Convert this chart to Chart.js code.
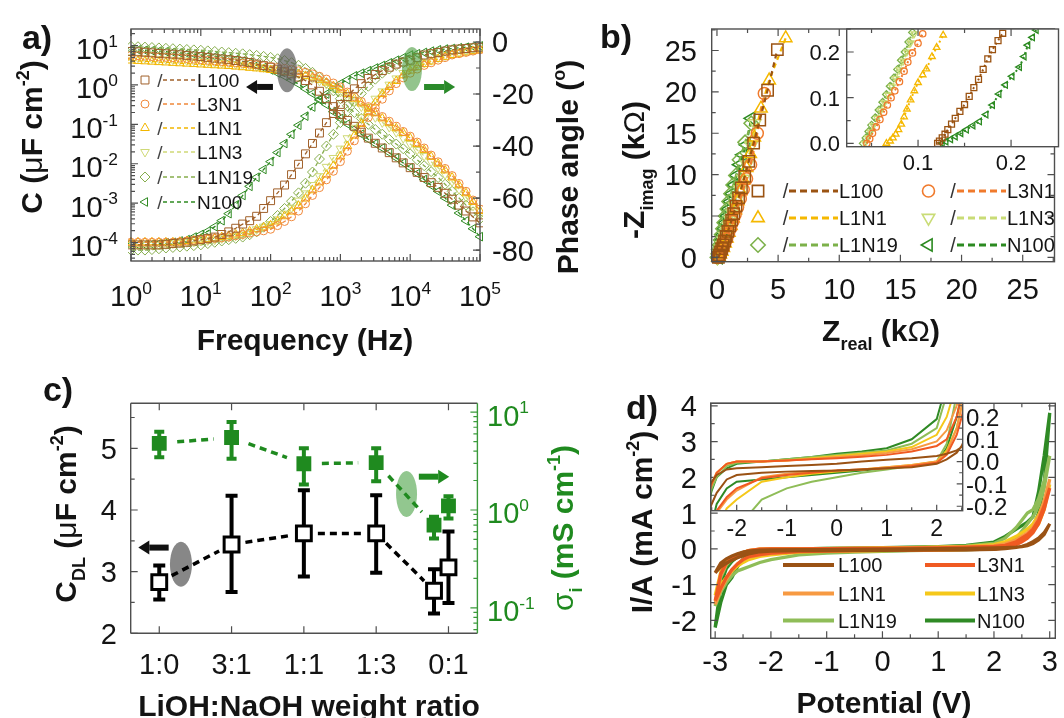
<!DOCTYPE html>
<html>
<head>
<meta charset="utf-8">
<title>Impedance, capacitance and CV of LiOH:NaOH electrolytes</title>
<script src="https://cdn.jsdelivr.net/npm/chart.js"></script>
<style>
  html, body { margin:0; padding:0; background:#ffffff; }
  body { width:1064px; height:718px; position:relative; overflow:hidden; }
  canvas { position:absolute; }
</style>
</head>
<body>
<canvas id="chartA" width="590" height="360" style="left:0px;top:0px;width:590px;height:360px"></canvas>
<canvas id="chartB" width="474" height="360" style="left:590px;top:0px;width:474px;height:360px"></canvas>
<canvas id="chartBin" width="274" height="160" style="left:790px;top:20px;width:274px;height:160px"></canvas>
<canvas id="chartC" width="590" height="358" style="left:0px;top:360px;width:590px;height:358px"></canvas>
<canvas id="chartD" width="474" height="358" style="left:590px;top:360px;width:474px;height:358px"></canvas>
<canvas id="chartDin" width="340" height="150" style="left:700px;top:395px;width:340px;height:150px"></canvas>
<script>
// ======================= DATA =======================
const seriesNames = ['L100', 'L3N1', 'L1N1', 'L1N3', 'L1N19', 'N100'];

// (a) capacitance (uF cm^-2) and phase angle (deg) vs frequency (Hz)
const freqHz = [1, 1.259, 1.585, 1.995, 2.512, 3.162, 3.981, 5.012, 6.310, 7.943,
  10, 12.59, 15.85, 19.95, 25.12, 31.62, 39.81, 50.12, 63.10, 79.43,
  100, 125.9, 158.5, 199.5, 251.2, 316.2, 398.1, 501.2, 631.0, 794.3,
  1000, 1259, 1585, 1995, 2512, 3162, 3981, 5012, 6310, 7943,
  10000, 12590, 15850, 19950, 25120, 31620, 39810, 50120, 63100, 79430, 100000];
const capL100 = [7.08, 6.92, 6.76, 6.53, 6.31, 6.17, 6.03, 5.82, 5.62, 5.43, 5.25, 5.01, 4.79, 4.57, 4.37, 4.17, 3.98, 3.72, 3.39, 3.09,
  2.82, 2.51, 2.24, 1.91, 1.58, 1.29, 1.0, 0.692, 0.447, 0.282, 0.178, 0.126, 0.0891, 0.0631, 0.0447, 0.0331, 0.0251, 0.0191, 0.0141, 0.0105,
  0.00794, 0.00603, 0.00447, 0.00331, 0.00251, 0.00178, 0.00126, 0.000891, 0.000631, 0.000447, 0.000316];
const capL3N1 = [5.62, 5.50, 5.37, 5.25, 5.13, 5.01, 4.90, 4.79, 4.68, 4.52, 4.37, 4.22, 4.07, 3.94, 3.80, 3.67, 3.55, 3.39, 3.24, 3.09,
  2.95, 2.79, 2.63, 2.45, 2.29, 2.09, 1.91, 1.66, 1.41, 1.12, 0.891, 0.661, 0.501, 0.380, 0.282, 0.209, 0.158, 0.120, 0.0891, 0.0661,
  0.0501, 0.0355, 0.0251, 0.0166, 0.0112, 0.00759, 0.00501, 0.00316, 0.0020, 0.0012, 0.000708];
const capL1N1 = [4.17, 4.07, 3.98, 3.89, 3.80, 3.72, 3.63, 3.55, 3.47, 3.39, 3.31, 3.24, 3.16, 3.09, 3.02, 2.92, 2.82, 2.72, 2.63, 2.51,
  2.40, 2.26, 2.14, 2.00, 1.86, 1.70, 1.55, 1.35, 1.15, 0.933, 0.759, 0.589, 0.447, 0.339, 0.251, 0.191, 0.141, 0.107, 0.0794, 0.0603,
  0.0447, 0.0316, 0.0224, 0.0151, 0.0100, 0.00676, 0.00447, 0.00282, 0.00178, 0.00107, 0.000631];
const capL1N3 = [5.01, 4.90, 4.79, 4.68, 4.57, 4.47, 4.37, 4.27, 4.17, 4.07, 3.98, 3.85, 3.72, 3.59, 3.47, 3.35, 3.24, 3.09, 2.95, 2.79,
  2.63, 2.45, 2.29, 2.09, 1.91, 1.70, 1.48, 1.26, 1.05, 0.832, 0.661, 0.501, 0.380, 0.282, 0.209, 0.151, 0.112, 0.0851, 0.0631, 0.0447,
  0.0316, 0.0224, 0.0158, 0.0112, 0.00794, 0.00537, 0.00355, 0.00224, 0.00141, 0.000851, 0.000501];
const capL1N19 = [9.55, 9.33, 9.12, 8.91, 8.71, 8.51, 8.32, 8.13, 7.94, 7.76, 7.59, 7.33, 7.08, 6.84, 6.61, 6.38, 6.17, 5.89, 5.62, 5.31,
  5.01, 4.62, 4.17, 3.67, 3.16, 2.63, 2.09, 1.58, 1.12, 0.708, 0.447, 0.295, 0.200, 0.141, 0.100, 0.0741, 0.0562, 0.0417, 0.0316, 0.0240,
  0.0178, 0.0126, 0.00891, 0.00631, 0.00447, 0.00302, 0.0020, 0.00135, 0.000891, 0.000603, 0.000398];
const capN100 = [7.94, 7.76, 7.59, 7.41, 7.24, 7.00, 6.76, 6.53, 6.31, 6.03, 5.75, 5.50, 5.25, 4.95, 4.68, 4.37, 3.98, 3.55, 3.16, 2.75,
  2.40, 2.00, 1.66, 1.32, 1.05, 0.794, 0.603, 0.437, 0.316, 0.209, 0.141, 0.102, 0.0759, 0.0562, 0.0417, 0.0324, 0.0251, 0.0191, 0.0141, 0.0105,
  0.00794, 0.00562, 0.00398, 0.00282, 0.0020, 0.00135, 0.000891, 0.000562, 0.000355, 0.000224, 0.000141];
const phaseL100 = [-78, -78, -78, -78, -78, -77.8, -77.5, -77.3, -77, -76.5, -76, -75.5, -75, -74, -73, -71.6, -70, -68.7, -67, -64,
  -61, -58, -55, -51, -47, -43, -39, -35, -31, -27.5, -24, -21, -18, -16, -14, -12.5, -11, -9.7, -8.5, -7.7,
  -7, -6, -5, -4.5, -4, -3.5, -3, -2.7, -2.5, -2.2, -2];
const phaseL3N1 = [-77, -77, -77, -77, -77, -77, -77, -76.8, -76.5, -76.3, -76, -75.8, -75.5, -75.3, -75, -74.5, -74, -73.5, -73, -72.6,
  -72, -70.6, -69, -67.2, -65, -62.2, -59, -56, -53, -49.7, -46, -42, -38, -33.5, -29, -25.3, -22, -18.8, -16, -13.8,
  -12, -10.4, -9, -8, -7, -6, -5, -4.5, -4, -3.5, -3];
const phaseL1N1 = [-77, -77, -77, -77, -77, -77, -77, -76.8, -76.5, -76.3, -76, -75.8, -75.5, -75, -74.5, -74, -73.5, -72.8, -72, -71.3,
  -70.5, -69, -67, -65.2, -63, -60.2, -57, -54, -51, -47.6, -44, -40, -36, -31.5, -27, -23.3, -20, -17.3, -15, -12.8,
  -11, -9.7, -8.5, -7.5, -6.5, -5.7, -5, -4.5, -4, -3.5, -3];
const phaseL1N3 = [-78, -78, -78, -78, -78, -77.8, -77.5, -77.3, -77, -76.8, -76.5, -76.3, -76, -75.5, -75, -74.5, -74, -73, -72, -71,
  -70, -68.2, -66, -63.7, -61, -58.2, -55, -51.6, -48, -44.6, -41, -37, -33, -28.9, -25, -21.8, -19, -16.4, -14, -11.9,
  -10, -9, -8, -7, -6, -5.2, -4.5, -4, -3.5, -3, -2.5];
const phaseL1N19 = [-80, -80, -80, -79.8, -79.5, -79.2, -79, -78.8, -78.5, -78.3, -78, -77.5, -77, -76.5, -76, -75.5, -75, -74.1, -73, -71.2,
  -69, -66.7, -64, -61.2, -58, -54.3, -50, -45, -40, -35.5, -31, -26.8, -23, -19.8, -17, -14.3, -12, -10.4, -9, -8,
  -7, -6.2, -5.5, -4.7, -4, -3.5, -3, -2.7, -2.5, -2.2, -2];
const phaseN100 = [-78, -78, -78, -77.8, -77.5, -77.2, -77, -76.5, -76, -75, -74, -72.7, -71, -68.7, -66, -62.7, -59, -55.5, -52, -49,
  -46, -42.5, -39, -35.5, -32, -28.5, -25, -22.3, -20, -18, -16, -14.5, -13, -12, -11, -10, -9, -8, -7, -6,
  -5, -4.5, -4, -3.5, -3, -2.7, -2.5, -2.2, -2, -1.7, -1.5];
const aFreqTicks = [1, 10, 100, 1000, 10000, 100000];
const aFreqExp = ['0', '1', '2', '3', '4', '5'];
const aCapTicks = [0.0001, 0.001, 0.01, 0.1, 1, 10];
const aCapExp = ['-4', '-3', '-2', '-1', '0', '1'];
const aPhaseTicks = [0, -20, -40, -60, -80];

// (b) Nyquist plot, Z_real / -Z_imag in kOhm
const zReL100  = [0.12, 0.2, 0.29, 0.39, 0.5, 0.62, 0.75, 0.89, 1.04, 1.2, 1.37, 1.56, 1.77, 2.0, 2.27, 2.6, 3.0, 3.5, 4.14, 4.94];
const zImL100  = [0, 0.3, 0.65, 1.05, 1.5, 2.0, 2.55, 3.15, 3.8, 4.5, 5.3, 6.2, 7.2, 8.4, 9.8, 11.6, 13.8, 16.6, 20.2, 25.1];
const zReL3N1  = [0.05, 0.14, 0.25, 0.37, 0.5, 0.64, 0.79, 0.95, 1.12, 1.3, 1.49, 1.69, 1.91, 2.15, 2.42, 2.75, 3.3, 3.87];
const zImL3N1  = [0, 0.15, 0.4, 0.75, 1.15, 1.65, 2.2, 2.85, 3.55, 4.35, 5.2, 6.1, 7.1, 8.2, 9.5, 11.2, 15.0, 19.8];
const zReL1N1  = [0.07, 0.16, 0.27, 0.39, 0.52, 0.66, 0.81, 0.97, 1.14, 1.32, 1.51, 1.71, 1.93, 2.17, 2.43, 2.72, 3.05, 3.6, 4.27, 5.62];
const zImL1N1  = [0, 0.1, 0.35, 0.7, 1.15, 1.7, 2.3, 3.0, 3.8, 4.7, 5.7, 6.8, 8.0, 9.3, 10.8, 12.5, 14.5, 18.0, 21.4, 26.5];
const zReL1N3  = [0.045, 0.12, 0.21, 0.31, 0.42, 0.54, 0.67, 0.81, 0.96, 1.12, 1.29, 1.47, 1.67, 1.9, 2.15, 2.45, 2.8, 3.1];
const zImL1N3  = [0, 0.3, 0.65, 1.05, 1.5, 2.0, 2.55, 3.15, 3.8, 4.5, 5.3, 6.15, 7.1, 8.2, 9.5, 11.2, 13.5, 16.2];
const zReL1N19 = [0.04, 0.09, 0.15, 0.22, 0.3, 0.39, 0.49, 0.6, 0.72, 0.85, 0.99, 1.15, 1.33, 1.55, 1.85, 2.3, 2.8];
const zImL1N19 = [0, 0.45, 0.95, 1.5, 2.1, 2.75, 3.45, 4.2, 5.0, 5.85, 6.75, 7.7, 8.75, 9.9, 11.8, 13.9, 16.2];
const zReN100  = [0.13, 0.18, 0.24, 0.31, 0.39, 0.48, 0.58, 0.69, 0.81, 0.94, 1.08, 1.23, 1.4, 1.6, 1.85, 2.1, 2.4, 2.8];
const zImN100  = [0, 0.45, 0.95, 1.5, 2.1, 2.75, 3.45, 4.2, 5.0, 5.85, 6.75, 7.7, 8.75, 9.9, 11.2, 12.4, 13.6, 16.8];
// (b) inset, high-frequency region
const izReL100  = [0.121, 0.123, 0.126, 0.129, 0.132, 0.136, 0.14, 0.145, 0.15, 0.155, 0.16, 0.165, 0.17, 0.175, 0.18, 0.186, 0.191];
const izImL100  = [0, 0.005, 0.012, 0.02, 0.03, 0.042, 0.055, 0.07, 0.085, 0.103, 0.122, 0.14, 0.162, 0.185, 0.205, 0.225, 0.241];
const izReL3N1  = [0.045, 0.048, 0.051, 0.055, 0.059, 0.063, 0.067, 0.071, 0.075, 0.08, 0.085, 0.089, 0.094, 0.1, 0.105];
const izImL3N1  = [0, 0.01, 0.022, 0.036, 0.052, 0.068, 0.084, 0.1, 0.115, 0.135, 0.158, 0.178, 0.198, 0.219, 0.24];
const izReL1N1  = [0.066, 0.07, 0.073, 0.076, 0.079, 0.082, 0.085, 0.088, 0.092, 0.096, 0.1, 0.105, 0.109, 0.115, 0.12, 0.127];
const izImL1N1  = [0, 0.005, 0.012, 0.02, 0.03, 0.042, 0.058, 0.075, 0.095, 0.115, 0.133, 0.15, 0.163, 0.19, 0.21, 0.237];
const izReL1N3  = [0.043, 0.046, 0.049, 0.052, 0.056, 0.06, 0.064, 0.068, 0.072, 0.076, 0.08, 0.084, 0.088, 0.092, 0.096];
const izImL1N3  = [0, 0.012, 0.025, 0.039, 0.055, 0.072, 0.089, 0.106, 0.124, 0.142, 0.161, 0.18, 0.2, 0.22, 0.24];
const izReL1N19 = [0.041, 0.044, 0.047, 0.05, 0.054, 0.058, 0.062, 0.066, 0.07, 0.074, 0.078, 0.082, 0.086, 0.09, 0.094];
const izImL1N19 = [0, 0.012, 0.026, 0.04, 0.056, 0.073, 0.09, 0.107, 0.125, 0.143, 0.162, 0.182, 0.2, 0.222, 0.243];
const izReN100  = [0.126, 0.13, 0.135, 0.14, 0.146, 0.152, 0.159, 0.166, 0.173, 0.18, 0.187, 0.194, 0.201, 0.209, 0.214, 0.218, 0.223, 0.227];
const izImN100  = [0, 0.004, 0.009, 0.015, 0.022, 0.03, 0.039, 0.048, 0.063, 0.084, 0.108, 0.128, 0.147, 0.167, 0.19, 0.215, 0.232, 0.248];
const bTicks = [0, 5, 10, 15, 20, 25];
const bInYTicks = [0, 0.1, 0.2];
const bInYLabels = ['0.0', '0.1', '0.2'];
const bInXTicks = [0.1, 0.2];
const bInXLabels = ['0.1', '0.2'];

// (c) double-layer capacitance and ionic conductivity vs LiOH:NaOH ratio
const cRatioLabels = ['1:0', '3:1', '1:1', '1:3', '0:1'];
const cRatioPos = [0, 1, 2, 3, 4];
const cSampleX = [0, 1, 2, 3, 3.8, 4];
const cdl   = [2.83, 3.44, 3.62, 3.62, 2.69, 3.07];
const cdlLo = [2.55, 2.67, 2.92, 2.98, 2.32, 2.49];
const cdlHi = [3.10, 4.23, 4.32, 4.24, 3.04, 3.65];
const sigma   = [4.8, 5.5, 2.97, 3.05, 0.70, 1.10];
const sigmaLo = [3.45, 3.34, 1.82, 1.97, 0.51, 0.82];
const sigmaHi = [6.3, 7.9, 4.28, 4.28, 0.855, 1.38];
const cYTicks = [2, 3, 4, 5];
const cSigTicks = [0.1, 1, 10];
const cSigExp = ['-1', '0', '1'];

// (d) cyclic voltammetry: potential (V) and I/A (mA cm^-2)
const cvV = [-3.0, -2.9, -2.8, -2.7, -2.6, -2.5, -2.4, -2.2, -2.0, -1.5, -1.0, -0.5, 0, 0.5, 1.0, 1.5, 2.0, 2.2, 2.4, 2.5, 2.6, 2.7, 2.8, 2.9, 3.0,
             2.9, 2.8, 2.7, 2.6, 2.5, 2.4, 2.2, 2.0, 1.5, 1.0, 0.5, 0, -0.5, -1.0, -1.5, -2.0, -2.2, -2.4, -2.5, -2.6, -2.7, -2.8, -2.9, -3.0];
const cvL100  = [-0.67, -0.4, -0.28, -0.2, -0.14, -0.09, -0.06, -0.035, -0.03, -0.025, -0.02, -0.015, -0.01, 0.0, 0.008, 0.015, 0.025, 0.035, 0.05, 0.065, 0.09, 0.15, 0.25, 0.4, 0.7,
                 0.45, 0.3, 0.2, 0.12, 0.07, 0.04, 0.01, -0.01, -0.025, -0.03, -0.035, -0.04, -0.042, -0.045, -0.05, -0.06, -0.08, -0.14, -0.19, -0.25, -0.32, -0.4, -0.5, -0.67];
const cvL3N1  = [-1.45, -0.7, -0.4, -0.26, -0.17, -0.1, -0.05, -0.01, 0.0, 0.0, 0.005, 0.01, 0.015, 0.022, 0.03, 0.045, 0.07, 0.1, 0.2, 0.3, 0.4, 0.55, 0.8, 1.2, 1.7,
                 1.1, 0.7, 0.45, 0.3, 0.2, 0.12, 0.03, -0.005, -0.02, -0.03, -0.035, -0.04, -0.05, -0.06, -0.075, -0.12, -0.16, -0.22, -0.3, -0.42, -0.58, -0.8, -1.1, -1.45];
const cvL1N1  = [-1.55, -0.75, -0.42, -0.27, -0.17, -0.1, -0.05, -0.01, 0.0, 0.0, 0.005, 0.012, 0.02, 0.028, 0.038, 0.055, 0.09, 0.14, 0.25, 0.35, 0.45, 0.6, 0.9, 1.35, 1.95,
                 1.2, 0.75, 0.5, 0.35, 0.25, 0.15, 0.04, 0.0, -0.015, -0.025, -0.035, -0.04, -0.045, -0.055, -0.07, -0.13, -0.17, -0.23, -0.3, -0.42, -0.6, -0.85, -1.15, -1.55];
const cvL1N3  = [-1.3, -0.65, -0.38, -0.25, -0.16, -0.1, -0.05, -0.01, 0.0, 0.0, 0.005, 0.015, 0.025, 0.035, 0.045, 0.065, 0.12, 0.2, 0.35, 0.45, 0.55, 0.7, 0.95, 1.3, 1.8,
                 1.1, 0.7, 0.5, 0.35, 0.25, 0.15, 0.05, 0.0, -0.015, -0.025, -0.035, -0.045, -0.055, -0.07, -0.09, -0.17, -0.21, -0.3, -0.38, -0.48, -0.62, -0.8, -1.0, -1.3];
const cvL1N19 = [-1.6, -0.8, -0.45, -0.3, -0.2, -0.12, -0.07, -0.02, -0.005, 0.0, 0.01, 0.02, 0.03, 0.04, 0.05, 0.08, 0.15, 0.3, 0.6, 0.8, 1.0, 1.1, 1.4, 1.9, 2.6,
                 1.7, 1.2, 0.9, 0.7, 0.5, 0.3, 0.08, 0.0, -0.02, -0.035, -0.05, -0.07, -0.09, -0.12, -0.17, -0.3, -0.38, -0.5, -0.56, -0.62, -0.75, -0.95, -1.2, -1.6];
const cvN100  = [-2.2, -1.0, -0.55, -0.35, -0.22, -0.13, -0.07, -0.03, -0.01, 0.0, 0.01, 0.02, 0.035, 0.045, 0.06, 0.1, 0.19, 0.35, 0.55, 0.65, 0.75, 0.9, 1.6, 2.6, 3.8,
                 1.8, 1.0, 0.6, 0.4, 0.3, 0.2, 0.06, -0.005, -0.02, -0.03, -0.04, -0.05, -0.06, -0.07, -0.08, -0.09, -0.12, -0.19, -0.28, -0.5, -0.8, -1.0, -1.5, -2.2];
const dXTicks = [-3, -2, -1, 0, 1, 2, 3];
const dYTicks = [-2, -1, 0, 1, 2, 3, 4];
const dInXTicks = [-2, -1, 0, 1, 2];
const dInYTicks = [-0.2, -0.1, 0, 0.1, 0.2];
const dInYLabels = ['-0.2', '-0.1', '0.0', '0.1', '0.2'];

// ======================= STYLES =======================
const FONT = '"Liberation Sans", Arial, Helvetica, sans-serif';
const FR = '#4f4f4f';
const TXT = '#141414';
const GREEN = '#1f8a1f';
const colA = { L100: '#a0602a', L3N1: '#f0883a', L1N1: '#f2b600', L1N3: '#cfd977', L1N19: '#86ad4c', N100: '#2f8a22' };
const colB = { L100: '#9b5312', L3N1: '#f07a2c', L1N1: '#f5b800', L1N3: '#c9dc76', L1N19: '#7cb14a', N100: '#2b8a20' };
const colD = { L100: '#9a5214', L3N1: '#f05a22', L1N1: '#f79a42', L1N3: '#f5c81a', L1N19: '#8fbd58', N100: '#2f8a25' };
const shapes = { L100: ['rect', 0], L3N1: ['circle', 0], L1N1: ['triangle', 0], L1N3: ['triangle', 180], L1N19: ['rectRot', 0], N100: ['triangle', -90] };
const sizeA = { rect: 5.6, circle: 4.0, triangle: 5.0, rectRot: 5.0 };
const sizeB = { rect: 8.0, circle: 6.0, triangle: 7.2, rectRot: 7.2 };
const sizeBin = { rect: 4.2, circle: 3.2, triangle: 3.8, rectRot: 3.8 };

// ======================= HELPERS =======================
function fnt(s, b) { return (b ? 'bold ' : '') + s + 'px ' + FONT; }
const T = (t, s, b = true, c) => ({ t, s, b, c });
const SUP = (t, s, b = true) => ({ t, s: s * 0.6, b, dy: -s * 0.42 });
const SUB = (t, s, b = true) => ({ t, s: s * 0.6, b, dy: s * 0.32 });
const pow10 = (e, s) => [T('10', s, false), SUP(e, s, false)];

function rich(ctx, segs, x, y, align, rot, color, size) {
  ctx.save();
  ctx.translate(x, y);
  if (rot) ctx.rotate(rot);
  let total = 0;
  const ws = segs.map(g => { ctx.font = fnt(g.s, g.b); const w = ctx.measureText(g.t).width; total += w; return w; });
  let cx = align === 'center' ? -total / 2 : (align === 'right' ? -total : 0);
  const base = 0.36 * size;
  ctx.textBaseline = 'alphabetic';
  ctx.textAlign = 'left';
  segs.forEach((g, i) => { ctx.font = fnt(g.s, g.b); ctx.fillStyle = g.c || color; ctx.fillText(g.t, cx, base + (g.dy || 0)); cx += ws[i]; });
  ctx.restore();
}
function kit(chart, OX, OY) {
  const a = chart.chartArea;
  return {
    A: { left: a.left + OX, right: a.right + OX, top: a.top + OY, bottom: a.bottom + OY },
    X: (v, id = 'x') => chart.scales[id].getPixelForValue(v) + OX,
    Y: (v, id = 'y') => chart.scales[id].getPixelForValue(v) + OY
  };
}
function frameBox(ctx, A, color, lw) {
  ctx.save(); ctx.strokeStyle = color; ctx.lineWidth = lw || 1.4;
  ctx.strokeRect(A.left, A.top, A.right - A.left, A.bottom - A.top); ctx.restore();
}
function tickLines(ctx, K, horiz, id, vals, len, sides, color, lw) {
  const A = K.A;
  ctx.save(); ctx.strokeStyle = color; ctx.lineWidth = lw || 1.2; ctx.beginPath();
  for (const v of vals) {
    if (horiz) {
      const p = K.X(v, id); if (p < A.left - 0.5 || p > A.right + 0.5) continue;
      if (sides.includes('b')) { ctx.moveTo(p, A.bottom); ctx.lineTo(p, A.bottom - len); }
      if (sides.includes('t')) { ctx.moveTo(p, A.top); ctx.lineTo(p, A.top + len); }
    } else {
      const p = K.Y(v, id); if (p < A.top - 0.5 || p > A.bottom + 0.5) continue;
      if (sides.includes('l')) { ctx.moveTo(A.left, p); ctx.lineTo(A.left + len, p); }
      if (sides.includes('r')) { ctx.moveTo(A.right, p); ctx.lineTo(A.right - len, p); }
    }
  }
  ctx.stroke(); ctx.restore();
}
function logMinor(e0, e1) { const out = []; for (let e = e0; e <= e1; e++) for (let d = 2; d <= 9; d++) out.push(d * Math.pow(10, e)); return out; }
function steps(a, b, st) { const out = []; for (let v = a; v <= b + 1e-9; v += st) out.push(+v.toFixed(6)); return out; }
function marker(ctx, shape, rot, x, y, r, color, lw, fill) {
  ctx.save(); ctx.beginPath();
  if (shape === 'rect') { const s = r * Math.SQRT1_2; ctx.rect(x - s, y - s, 2 * s, 2 * s); }
  else if (shape === 'circle') { ctx.arc(x, y, r, 0, Math.PI * 2); }
  else if (shape === 'rectRot') { ctx.moveTo(x - r, y); ctx.lineTo(x, y - r); ctx.lineTo(x + r, y); ctx.lineTo(x, y + r); ctx.closePath(); }
  else {
    let a = rot * Math.PI / 180;
    for (let k = 0; k < 3; k++) { const px = x + Math.sin(a) * r, py = y - Math.cos(a) * r; if (k) ctx.lineTo(px, py); else ctx.moveTo(px, py); a += 2 * Math.PI / 3; }
    ctx.closePath();
  }
  if (fill) { ctx.fillStyle = fill; ctx.fill(); }
  ctx.strokeStyle = color; ctx.lineWidth = lw; ctx.stroke(); ctx.restore();
}
function seg(ctx, x1, y1, x2, y2, color, lw, dash) {
  ctx.save(); ctx.strokeStyle = color; ctx.lineWidth = lw; ctx.setLineDash(dash || []);
  ctx.beginPath(); ctx.moveTo(x1, y1); ctx.lineTo(x2, y2); ctx.stroke(); ctx.restore();
}
function ellipse(ctx, x, y, rx, ry, fill) {
  ctx.save(); ctx.fillStyle = fill; ctx.beginPath(); ctx.ellipse(x, y, rx, ry, 0, 0, Math.PI * 2); ctx.fill(); ctx.restore();
}
function arrow(ctx, x1, y1, x2, y2, color, lw, hl, hw) {
  const ang = Math.atan2(y2 - y1, x2 - x1);
  const bx = x2 - Math.cos(ang) * hl, by = y2 - Math.sin(ang) * hl;
  ctx.save(); ctx.strokeStyle = color; ctx.fillStyle = color; ctx.lineWidth = lw;
  ctx.beginPath(); ctx.moveTo(x1, y1); ctx.lineTo(bx, by); ctx.stroke();
  ctx.beginPath(); ctx.moveTo(x2, y2);
  ctx.lineTo(bx + Math.sin(ang) * hw, by - Math.cos(ang) * hw);
  ctx.lineTo(bx - Math.sin(ang) * hw, by + Math.cos(ang) * hw);
  ctx.closePath(); ctx.fill(); ctx.restore();
}
function axis(type, pos, min, max, size) {
  return {
    type, position: pos, min, max, display: true,
    ticks: { display: false }, grid: { display: false, drawTicks: false }, border: { display: false }, title: { display: false },
    afterFit: s => { if (pos === 'left' || pos === 'right') s.width = size; else s.height = size; }
  };
}
function config(datasets, scales, padding, plugin) {
  return {
    type: 'scatter',
    data: { datasets },
    options: {
      responsive: false, animation: false, devicePixelRatio: 1, events: [],
      layout: { padding },
      plugins: { legend: { display: false }, tooltip: { enabled: false }, title: { display: false } },
      scales
    },
    plugins: [plugin]
  };
}
const pts = (xs, ys) => xs.map((x, k) => ({ x, y: ys[k] }));

// ======================= (a) =======================
const capSeries = [capL100, capL3N1, capL1N1, capL1N3, capL1N19, capN100];
const phaseSeries = [phaseL100, phaseL3N1, phaseL1N1, phaseL1N3, phaseL1N19, phaseN100];
const dsA = [];
seriesNames.forEach((n, i) => {
  const [shape, rot] = shapes[n];
  const common = {
    showLine: true, borderColor: colA[n], borderWidth: 1.3, borderDash: [4, 3],
    pointStyle: shape, pointRotation: rot, pointRadius: sizeA[shape],
    pointBorderColor: colA[n], pointBackgroundColor: 'rgba(0,0,0,0)', pointBorderWidth: 1, clip: 3
  };
  dsA.push(Object.assign({}, common, { data: pts(freqHz, capSeries[i]), yAxisID: 'y' }));
  dsA.push(Object.assign({}, common, { data: pts(freqHz, phaseSeries[i]), yAxisID: 'y2' }));
});
const OA = { x: 0, y: 0 };
const plugA = {
  id: 'decoA',
  afterDraw(chart) {
    const ctx = chart.ctx, K = kit(chart, OA.x, OA.y), A = K.A;
    ctx.save(); ctx.translate(-OA.x, -OA.y);
    ellipse(ctx, K.X(172), K.Y(2.35), 10, 22, 'rgba(95,95,95,0.72)');
    arrow(ctx, K.X(108), K.Y(0.89), K.X(44.5), K.Y(0.89), '#111111', 6, 11, 7);
    ellipse(ctx, K.X(10600), K.Y(-10.4, 'y2'), 10, 22, 'rgba(80,160,70,0.62)');
    arrow(ctx, K.X(15800), K.Y(-17.3, 'y2'), K.X(44000), K.Y(-17.3, 'y2'), '#2a8a2a', 6, 11, 7);
    frameBox(ctx, A, FR);
    tickLines(ctx, K, true, 'x', aFreqTicks, 7, 'bt', FR);
    tickLines(ctx, K, true, 'x', logMinor(0, 4), 4, 'bt', FR);
    tickLines(ctx, K, false, 'y', aCapTicks, 7, 'l', FR);
    tickLines(ctx, K, false, 'y', logMinor(-5, 1), 4, 'l', FR);
    tickLines(ctx, K, false, 'y2', aPhaseTicks, 7, 'r', FR);
    tickLines(ctx, K, false, 'y2', steps(-90, 0, 10), 4, 'r', FR);
    aFreqTicks.forEach((v, i) => rich(ctx, pow10(aFreqExp[i], 29), K.X(v), 296, 'center', 0, TXT, 29));
    aCapTicks.forEach((v, i) => rich(ctx, pow10(aCapExp[i], 29), 118, K.Y(v) + 3, 'right', 0, TXT, 29));
    aPhaseTicks.forEach(v => rich(ctx, [T(String(v), 29, false)], 492, K.Y(v, 'y2'), 'left', 0, TXT, 29));
    rich(ctx, [T('C (', 30), T('\u03bc', 30, false), T('F cm', 30), SUP('-2', 30), T(')', 30)], 31, 137, 'center', -Math.PI / 2, TXT, 30);
    rich(ctx, [T('Phase angle (', 30), SUP('o', 30), T(')', 30)], 567, 167, 'center', -Math.PI / 2, TXT, 30);
    rich(ctx, [T('Frequency (Hz)', 30)], 305, 339, 'center', 0, TXT, 30);
    rich(ctx, [T('a)', 34)], 37, 37, 'center', 0, TXT, 34);
    const rows = [80, 104, 128, 152, 177, 202];
    seriesNames.forEach((n, i) => {
      const y = rows[i], [shape, rot] = shapes[n];
      marker(ctx, shape, rot, 145, y, sizeA[shape], colA[n], 1, null);
      rich(ctx, [T('/', 19, false)], 160, y, 'center', 0, '#444', 19);
      seg(ctx, 163, y, 195, y, colA[n], 1.4, [4, 3]);
      rich(ctx, [T(n, 19, false)], 197, y, 'left', 0, TXT, 19);
    });
    ctx.restore();
  }
};
new Chart(document.getElementById('chartA'), config(dsA, {
  x: axis('logarithmic', 'bottom', 1, 100000, 99),
  y: axis('logarithmic', 'left', 3.4e-5, 26.3, 131),
  y2: axis('linear', 'right', -84.2, 5, 110)
}, { top: 29, left: 0, right: 0, bottom: 0 }, plugA));

// ======================= (b) main =======================
const zReS = [zReL100, zReL3N1, zReL1N1, zReL1N3, zReL1N19, zReN100];
const zImS = [zImL100, zImL3N1, zImL1N1, zImL1N3, zImL1N19, zImN100];
const dsB = seriesNames.map((n, i) => {
  const [shape, rot] = shapes[n];
  return {
    showLine: true, data: pts(zReS[i], zImS[i]), borderColor: colB[n], borderWidth: 2.2, borderDash: [5, 4],
    pointStyle: shape, pointRotation: rot, pointRadius: sizeB[shape], pointBorderColor: colB[n],
    pointBackgroundColor: 'rgba(0,0,0,0)', pointBorderWidth: 1.5, clip: 8
  };
});
const OB = { x: 590, y: 0 };
const plugB = {
  id: 'decoB',
  afterDraw(chart) {
    const ctx = chart.ctx, K = kit(chart, OB.x, OB.y), A = K.A;
    ctx.save(); ctx.translate(-OB.x, -OB.y);
    frameBox(ctx, A, FR);
    const minor = steps(2.5, 27.5, 5);
    tickLines(ctx, K, true, 'x', bTicks, 7, 'b', FR);
    tickLines(ctx, K, true, 'x', minor, 4, 'b', FR);
    tickLines(ctx, K, true, 'x', bTicks.filter(v => v < 10.3), 7, 't', FR);
    tickLines(ctx, K, true, 'x', minor.filter(v => v < 10.3), 4, 't', FR);
    tickLines(ctx, K, false, 'y', bTicks, 7, 'l', FR);
    tickLines(ctx, K, false, 'y', minor, 4, 'l', FR);
    tickLines(ctx, K, false, 'y', bTicks.filter(v => v < 13), 7, 'r', FR);
    tickLines(ctx, K, false, 'y', minor.filter(v => v < 13), 4, 'r', FR);
    bTicks.forEach(v => rich(ctx, [T(String(v), 29, false)], K.X(v), 289, 'center', 0, TXT, 29));
    bTicks.forEach(v => rich(ctx, [T(String(v), 29, false)], 697, K.Y(v), 'right', 0, TXT, 29));
    rich(ctx, [T('-Z', 30), SUB('imag', 30), T(' (k', 30), T('\u03a9', 30, false), T(')', 30)], 633, 170, 'center', -Math.PI / 2, TXT, 30);
    rich(ctx, [T('Z', 30), SUB('real', 30), T(' (k', 30), T('\u03a9', 30, false), T(')', 30)], 881, 330, 'center', 0, TXT, 30);
    rich(ctx, [T('b)', 34)], 616, 36, 'center', 0, TXT, 34);
    const rows = [191, 218, 245];
    const cols = [{ m: 758, s: 785.5, l1: 789, l2: 838, t: 839 }, { m: 928.5, s: 953, l1: 957, l2: 1006, t: 1007 }];
    seriesNames.forEach((n, i) => {
      const y = rows[Math.floor(i / 2)], c = cols[i % 2], [shape, rot] = shapes[n];
      marker(ctx, shape, rot, c.m, y, sizeB[shape], colB[n], 1.6, null);
      rich(ctx, [T('/', 20, false)], c.s, y, 'center', 0, '#333', 20);
      seg(ctx, c.l1, y, c.l2, y, colB[n], 3, [7, 4]);
      rich(ctx, [T(n, 20, false)], c.t, y, 'left', 0, TXT, 20);
    });
    ctx.restore();
  }
};
new Chart(document.getElementById('chartB'), config(dsB, {
  x: axis('linear', 'bottom', -0.43, 27.6, 98.3),
  y: axis('linear', 'left', -0.52, 27.6, 121.7)
}, { top: 29, left: 0, right: 4.7, bottom: 0 }, plugB));

// ======================= (b) inset =======================
const izReS = [izReL100, izReL3N1, izReL1N1, izReL1N3, izReL1N19, izReN100];
const izImS = [izImL100, izImL3N1, izImL1N1, izImL1N3, izImL1N19, izImN100];
const dsBin = seriesNames.map((n, i) => {
  const [shape, rot] = shapes[n];
  return {
    showLine: true, data: pts(izReS[i], izImS[i]), borderColor: colB[n], borderWidth: 2, borderDash: [2, 3],
    pointStyle: shape, pointRotation: rot, pointRadius: sizeBin[shape], pointBorderColor: colB[n],
    pointBackgroundColor: 'rgba(0,0,0,0)', pointBorderWidth: 1.3, clip: 0
  };
});
const OBi = { x: 790, y: 20 };
const plugBin = {
  id: 'decoBin',
  beforeDraw(chart) {
    const ctx = chart.ctx, a = chart.chartArea;
    ctx.save(); ctx.fillStyle = '#ffffff'; ctx.fillRect(a.left, a.top, a.right - a.left, a.bottom - a.top); ctx.restore();
  },
  afterDraw(chart) {
    const ctx = chart.ctx, K = kit(chart, OBi.x, OBi.y), A = K.A;
    ctx.save(); ctx.translate(-OBi.x, -OBi.y);
    frameBox(ctx, A, FR);
    tickLines(ctx, K, false, 'y', bInYTicks, 7, 'l', FR);
    tickLines(ctx, K, false, 'y', [0.05, 0.15, 0.25], 4, 'l', FR);
    tickLines(ctx, K, true, 'x', bInXTicks, 7, 'bt', FR);
    tickLines(ctx, K, true, 'x', [0.05, 0.15], 4, 'bt', FR);
    bInYTicks.forEach((v, i) => rich(ctx, [T(bInYLabels[i], 22, false)], 840, K.Y(v), 'right', 0, TXT, 22));
    bInXTicks.forEach((v, i) => rich(ctx, [T(bInXLabels[i], 22, false)], K.X(v), 162, 'center', 0, TXT, 22));
    ctx.restore();
  }
};
new Chart(document.getElementById('chartBin'), config(dsBin, {
  x: axis('linear', 'bottom', 0.0233, 0.251, 33.3),
  y: axis('linear', 'left', -0.0073, 0.2504, 56.7)
}, { top: 9, left: 0, right: 4.7, bottom: 0 }, plugBin));

// ======================= (c) =======================
const dsC = [
  { data: pts(cSampleX, cdl), yAxisID: 'y', showLine: false, pointStyle: 'rect', pointRadius: 10.5, pointBorderWidth: 3, pointBorderColor: '#000000', pointBackgroundColor: '#ffffff' },
  { data: pts(cSampleX, sigma), yAxisID: 'y2', showLine: false, pointStyle: 'rect', pointRadius: 10.5, pointBorderWidth: 0, pointBorderColor: GREEN, pointBackgroundColor: GREEN }
];
function errBars(ctx, K, id, xs, lo, hi, color, lw, cap) {
  ctx.save(); ctx.strokeStyle = color; ctx.lineWidth = lw; ctx.beginPath();
  xs.forEach((x, i) => {
    const px = K.X(x), p1 = K.Y(lo[i], id), p2 = K.Y(hi[i], id);
    ctx.moveTo(px, p1); ctx.lineTo(px, p2);
    ctx.moveTo(px - cap, p1); ctx.lineTo(px + cap, p1);
    ctx.moveTo(px - cap, p2); ctx.lineTo(px + cap, p2);
  });
  ctx.stroke(); ctx.restore();
}
function gapLines(ctx, K, id, xs, ys, color, lw, dash, gap) {
  ctx.save(); ctx.strokeStyle = color; ctx.lineWidth = lw; ctx.setLineDash(dash);
  for (let i = 0; i < xs.length - 1; i++) {
    const x1 = K.X(xs[i]), y1 = K.Y(ys[i], id), x2 = K.X(xs[i + 1]), y2 = K.Y(ys[i + 1], id);
    const L = Math.hypot(x2 - x1, y2 - y1); if (L < 2 * gap + 6) continue;
    const ux = (x2 - x1) / L, uy = (y2 - y1) / L;
    ctx.beginPath(); ctx.moveTo(x1 + ux * gap, y1 + uy * gap); ctx.lineTo(x2 - ux * gap, y2 - uy * gap); ctx.stroke();
  }
  ctx.restore();
}
const OC = { x: 0, y: 360 };
const plugC = {
  id: 'decoC',
  beforeDatasetsDraw(chart) {
    const ctx = chart.ctx, K = kit(chart, OC.x, OC.y);
    ctx.save(); ctx.translate(-OC.x, -OC.y);
    ellipse(ctx, K.X(0.30), K.Y(3.12), 11, 22.5, 'rgba(105,105,105,0.8)');
    ellipse(ctx, K.X(3.42), K.Y(4.26), 10.5, 23, 'rgba(110,180,105,0.75)');
    gapLines(ctx, K, 'y', cSampleX, cdl, '#000000', 3.5, [7, 5], 14);
    gapLines(ctx, K, 'y2', cSampleX, sigma, GREEN, 3.5, [7, 5], 18);
    errBars(ctx, K, 'y', cSampleX, cdlLo, cdlHi, '#000000', 4, 6);
    errBars(ctx, K, 'y2', cSampleX, sigmaLo, sigmaHi, GREEN, 4, 5);
    ctx.restore();
  },
  afterDraw(chart) {
    const ctx = chart.ctx, K = kit(chart, OC.x, OC.y), A = K.A;
    ctx.save(); ctx.translate(-OC.x, -OC.y);
    arrow(ctx, K.X(0.13), K.Y(3.39), K.X(-0.29), K.Y(3.39), '#111111', 6, 11, 7);
    arrow(ctx, K.X(3.59), K.Y(4.54), K.X(4.01), K.Y(4.54), GREEN, 6, 11, 7);
    seg(ctx, A.left, A.bottom, A.left, A.top, FR, 1.4);
    seg(ctx, A.left, A.top, A.right, A.top, FR, 1.4);
    seg(ctx, A.left, A.bottom, A.right, A.bottom, FR, 1.4);
    seg(ctx, A.right, A.top, A.right, A.bottom, '#3a9a3a', 1.4);
    tickLines(ctx, K, false, 'y', cYTicks, 7, 'l', FR);
    tickLines(ctx, K, false, 'y', [2.5, 3.5, 4.5, 5.5], 4, 'l', FR);
    tickLines(ctx, K, true, 'x', cRatioPos, 7, 'bt', FR);
    tickLines(ctx, K, false, 'y2', cSigTicks, 7, 'r', '#3a9a3a');
    tickLines(ctx, K, false, 'y2', logMinor(-2, 1), 4, 'r', '#3a9a3a');
    cRatioPos.forEach((v, i) => rich(ctx, [T(cRatioLabels[i], 29, false)], K.X(v), 664, 'center', 0, TXT, 29));
    cYTicks.forEach(v => rich(ctx, [T(String(v), 29, false)], 117, K.Y(v), 'right', 0, TXT, 29));
    cSigTicks.forEach((v, i) => rich(ctx, pow10(cSigExp[i], 29), 487, K.Y(v, 'y2') + 3, 'left', 0, GREEN, 29));
    rich(ctx, [T('C', 30), SUB('DL', 30), T(' (', 30), T('\u03bc', 30, false), T('F cm', 30), SUP('-2', 30), T(')', 30)], 65, 514, 'center', -Math.PI / 2, TXT, 30);
    rich(ctx, [T('\u03c3', 30, false), SUB('i', 30), T(' (mS cm', 30), SUP('-1', 30), T(')', 30)], 562, 528, 'center', -Math.PI / 2, GREEN, 30);
    rich(ctx, [T('LiOH:NaOH weight ratio', 30)], 309, 705, 'center', 0, TXT, 30);
    rich(ctx, [T('c)', 34)], 58, 389, 'center', 0, TXT, 34);
    ctx.restore();
  }
};
new Chart(document.getElementById('chartC'), config(dsC, {
  x: axis('linear', 'bottom', -0.395, 4.4, 84.7),
  y: axis('linear', 'left', 2, 5.73, 130.7),
  y2: axis('logarithmic', 'right', 0.055, 12.3, 112.6)
}, { top: 43.3, left: 0, right: 0, bottom: 0 }, plugC));

// ======================= (d) main =======================
const cvS = [cvL100, cvL3N1, cvL1N1, cvL1N3, cvL1N19, cvN100];
const dsD = seriesNames.map((n, i) => ({ showLine: true, data: pts(cvV, cvS[i]), borderColor: colD[n], borderWidth: 3.3, pointRadius: 0, clip: 3 }));
const OD = { x: 590, y: 360 };
const plugD = {
  id: 'decoD',
  afterDraw(chart) {
    const ctx = chart.ctx, K = kit(chart, OD.x, OD.y), A = K.A;
    ctx.save(); ctx.translate(-OD.x, -OD.y);
    frameBox(ctx, A, FR);
    const yMin = steps(-2.5, 3.5, 1), xMin = steps(-2.5, 2.5, 1);
    tickLines(ctx, K, false, 'y', dYTicks, 7, 'lr', FR);
    tickLines(ctx, K, false, 'y', yMin, 4, 'lr', FR);
    tickLines(ctx, K, true, 'x', dXTicks, 7, 'b', FR);
    tickLines(ctx, K, true, 'x', xMin, 4, 'b', FR);
    tickLines(ctx, K, true, 'x', dXTicks.filter(v => v > 1.6), 7, 't', FR);
    tickLines(ctx, K, true, 'x', xMin.filter(v => v > 1.6), 4, 't', FR);
    dXTicks.forEach(v => rich(ctx, [T(String(v), 29, false)], K.X(v), 661, 'center', 0, TXT, 29));
    dYTicks.forEach(v => rich(ctx, [T(String(v), 29, false)], 697, K.Y(v), 'right', 0, TXT, 29));
    rich(ctx, [T('I/A (mA cm', 30), SUP('-2', 30), T(')', 30)], 641, 522, 'center', -Math.PI / 2, TXT, 30);
    rich(ctx, [T('Potential (V)', 30)], 884, 702, 'center', 0, TXT, 30);
    rich(ctx, [T('d)', 34)], 642, 407, 'center', 0, TXT, 34);
    const rows = [565, 593.5, 620.5];
    const cols = [{ l1: 783, l2: 834, t: 838 }, { l1: 925, l2: 975, t: 977 }];
    seriesNames.forEach((n, i) => {
      const y = rows[Math.floor(i / 2)], c = cols[i % 2];
      seg(ctx, c.l1, y, c.l2, y, colD[n], 4.2, []);
      rich(ctx, [T(n, 20, false)], c.t, y, 'left', 0, TXT, 20);
    });
    ctx.restore();
  }
};
new Chart(document.getElementById('chartD'), config(dsD, {
  x: axis('linear', 'bottom', -3.08, 3.1, 79.7),
  y: axis('linear', 'left', -2.5, 4.07, 120.7)
}, { top: 43.3, left: 0, right: 8.7, bottom: 0 }, plugD));

// ======================= (d) inset =======================
const dsDin = seriesNames.map((n, i) => ({ showLine: true, data: pts(cvV, cvS[i]), borderColor: colD[n], borderWidth: 2.0, pointRadius: 0, clip: 0 }));
const ODi = { x: 700, y: 395 };
const plugDin = {
  id: 'decoDin',
  afterDraw(chart) {
    const ctx = chart.ctx, K = kit(chart, ODi.x, ODi.y), A = K.A;
    ctx.save(); ctx.translate(-ODi.x, -ODi.y);
    frameBox(ctx, A, FR);
    tickLines(ctx, K, false, 'y', dInYTicks, 6, 'r', FR);
    tickLines(ctx, K, false, 'y', [-0.15, -0.05, 0.05, 0.15, 0.25], 3.5, 'r', FR);
    tickLines(ctx, K, true, 'x', dInXTicks, 6, 'b', FR);
    tickLines(ctx, K, true, 'x', [-2.5, -1.5, -0.5, 0.5, 1.5, 2.5], 3.5, 'b', FR);
    dInYTicks.forEach((v, i) => rich(ctx, [T(dInYLabels[i], 24, false)], 966, K.Y(v), 'left', 0, TXT, 24));
    dInXTicks.forEach(v => rich(ctx, [T(String(v), 23, false)], K.X(v), 528, 'center', 0, TXT, 23));
    ctx.restore();
  }
};
new Chart(document.getElementById('chartDin'), config(dsDin, {
  x: axis('linear', 'bottom', -2.52, 2.52, 34.3),
  y: axis('linear', 'left', -0.22, 0.261, 10.7)
}, { top: 8.3, left: 0, right: 77.3, bottom: 0 }, plugDin));
</script>
</body>
</html>
